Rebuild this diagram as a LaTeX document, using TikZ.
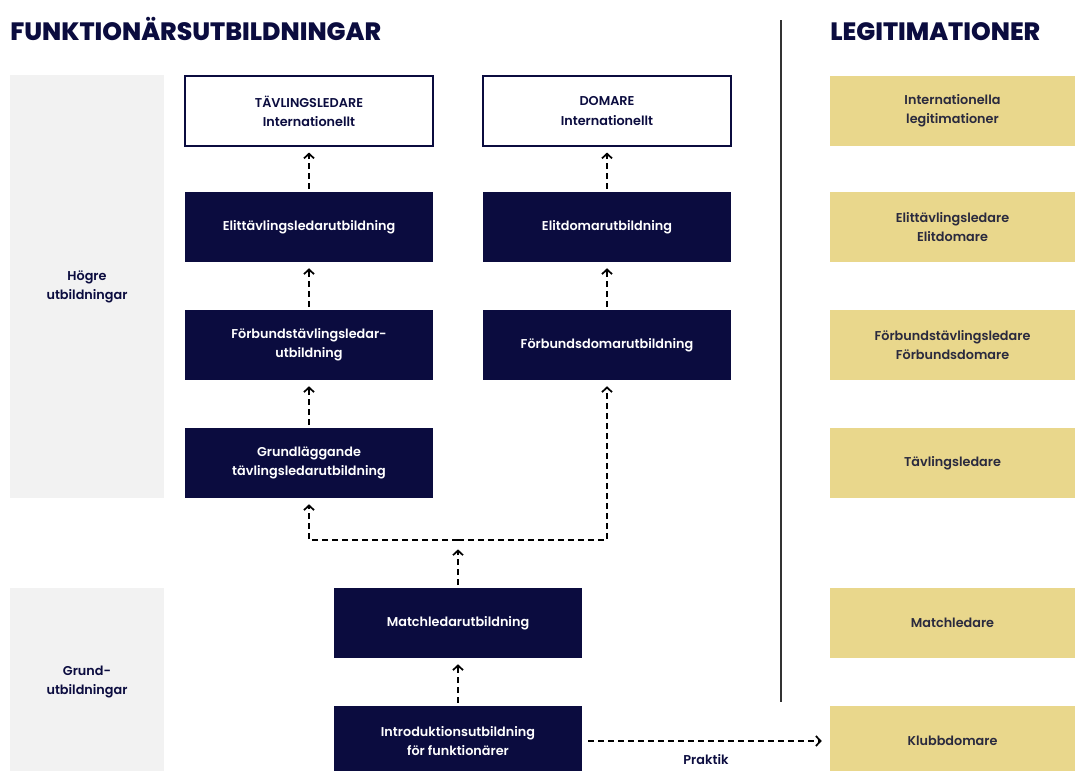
\documentclass[tikz,border=0pt]{standalone}
\usepackage{fontspec}
\setmainfont{Poppins}[UprightFont=* SemiBold, BoldFont=* ExtraBold]
\usepackage{xcolor}
\usetikzlibrary{positioning,calc,arrows.meta}

\definecolor{navy}{HTML}{0B0C3F}
\definecolor{legyellow}{HTML}{E9D78C}
\definecolor{panelgray}{HTML}{F2F2F2}
\definecolor{legtext}{HTML}{2A2A3E}

\tikzset{
  course/.style={fill=navy, text=white, align=center, font=\fontsize{9.6}{14.3}\selectfont,
    minimum width=186pt, minimum height=52.5pt, inner sep=0pt},
  goalbox/.style={course, fill=white, draw=navy, line width=0.8pt, text=navy},
  legbox/.style={fill=legyellow, text=legtext, align=center, font=\fontsize{9.6}{14.3}\selectfont,
    minimum width=183.75pt, minimum height=52.5pt, inner sep=0pt},
  levelpanel/.style={fill=panelgray, text=navy, align=center, font=\fontsize{9.6}{14.3}\selectfont,
    minimum width=115.5pt, inner sep=0pt},
  heading/.style={text=navy, font=\bfseries\fontsize{18.8}{22}\selectfont, inner sep=0pt},
  flow/.style={dash pattern=on 4.5pt off 3pt, line width=1.3pt, black,
    -{Straight Barb[length=3.5pt,width=7.5pt,line width=1.3pt]}}
}

\begin{document}
\begin{tikzpicture}[x=0.75pt,y=-0.75pt]
  \clip (0,0) rectangle (1075,771);
  \fill[white] (0,0) rectangle (1075,771);

  % Headings and divider
  \node[heading, anchor=base west] (title) at (10,40) {FUNKTIONÄRSUTBILDNINGAR};
  \node[heading, anchor=base west] (legtitle) at (830,40) {LEGITIMATIONER};
  \draw[line width=1.6pt, black!80] (781,20) -- (781,702);

  % Level panels
  \node[levelpanel, minimum height=317.25pt] (hogre) at (87,286.5) {Högre\\utbildningar};
  \fill[panelgray] (10,588) rectangle (164,800);
  \node[text=navy, align=center, font=\fontsize{9.6}{14.3}\selectfont] (grundlvl) at (87,682) {Grund-\\utbildningar};

  % Tävlingsledare column
  \node[goalbox] (tlint) at (309,111) {TÄVLINGSLEDARE\\Internationellt};
  \node[course] (tlelit) at (309,227) {Elittävlingsledarutbildning};
  \node[course] (tlforb) at (309,345) {Förbundstävlingsledar-\\utbildning};
  \node[course] (tlgrund) at (309,463) {Grundläggande\\tävlingsledarutbildning};

  % Domare column
  \node[goalbox] (dmint) at (607,111) {DOMARE\\Internationellt};
  \node[course] (dmelit) at (607,227) {Elitdomarutbildning};
  \node[course] (dmforb) at (607,345) {Förbundsdomarutbildning};

  % Grundutbildningar
  \node[course] (match) at (458,623) {Matchledarutbildning};
  \node[course] (intro) at (458,741) {Introduktionsutbildning\\för funktionärer};

  % Legitimationer
  \node[legbox] (legint) at (952.5,111) {Internationella\\legitimationer};
  \node[legbox] (legelit) at (952.5,227) {Elittävlingsledare\\Elitdomare};
  \node[legbox] (legforb) at (952.5,345) {Förbundstävlingsledare\\Förbundsdomare};
  \node[legbox] (legtl) at (952.5,463) {Tävlingsledare};
  \node[legbox] (legmatch) at (952.5,623) {Matchledare};
  \node[legbox] (legklubb) at (952.5,741) {Klubbdomare};

  % Flows
  \draw[flow, shorten <=2pt, shorten >=4.5pt] (tlelit) -- (tlint);
  \draw[flow, shorten <=2pt, shorten >=4.5pt] (tlforb) -- (tlelit);
  \draw[flow, shorten <=2pt, shorten >=4.5pt] (tlgrund) -- (tlforb);
  \draw[flow, shorten <=2pt, shorten >=4.5pt] (dmelit) -- (dmint);
  \draw[flow, shorten <=2pt, shorten >=4.5pt] (dmforb) -- (dmelit);

  \coordinate (split) at (458,540);
  \draw[flow, shorten >=4.5pt] (split) -| (tlgrund.south);
  \draw[flow, shorten >=4.5pt] (split) -| (dmforb.south);
  \draw[flow, shorten <=2pt, shorten >=7pt] (match) -- (split);
  \draw[flow, shorten <=2pt, shorten >=4.5pt] (intro) -- (match);

  \draw[flow, shorten <=4.5pt, shorten >=6pt] (intro) -- (legklubb)
    node[midway, below=6pt, text=navy, font=\fontsize{9.6}{14.3}\selectfont] (praktik) {Praktik};
\end{tikzpicture}
\end{document}
